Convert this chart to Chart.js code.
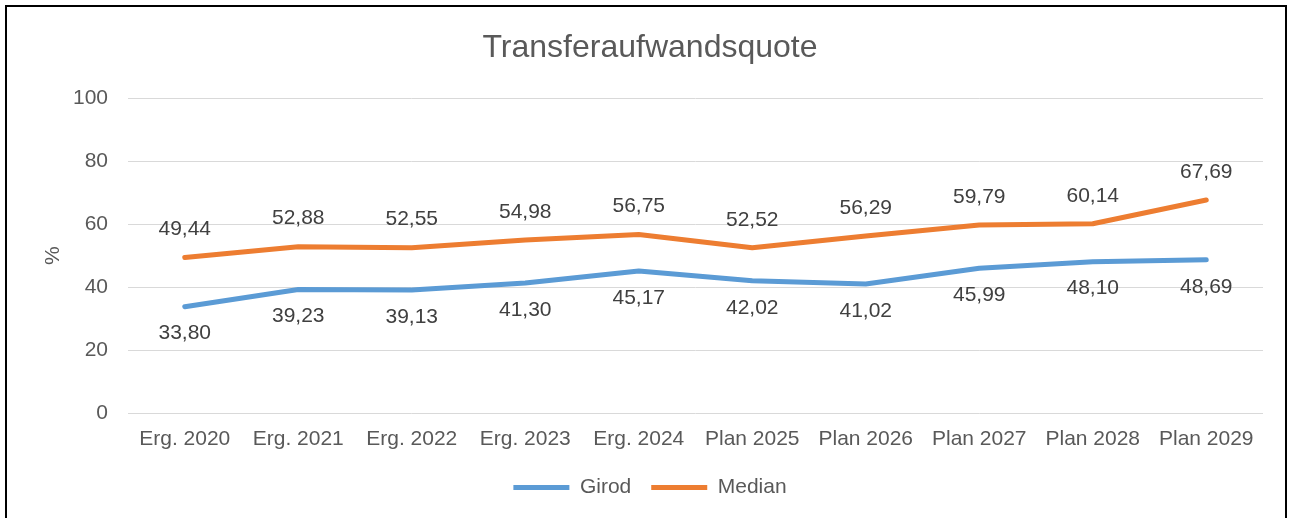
<!DOCTYPE html>
<html>
<head>
<meta charset="utf-8">
<script src="https://cdn.jsdelivr.net/npm/chart.js@4"></script>
<style>
  html, body { margin: 0; padding: 0; background: #fff; overflow: hidden; }
  #frame { position: absolute; left: 5px; top: 5px; width: 1278px; height: 600px; border: 2px solid #000; pointer-events: none; }
  #myChart { position: absolute; left: 0; top: 0; }
</style>
</head>
<body>
<canvas id="myChart" width="1291" height="518"></canvas>
<div id="frame"></div>
<script>
'use strict';

const labels = ['Erg. 2020', 'Erg. 2021', 'Erg. 2022', 'Erg. 2023', 'Erg. 2024',
  'Plan 2025', 'Plan 2026', 'Plan 2027', 'Plan 2028', 'Plan 2029'];
const girod = [33.80, 39.23, 39.13, 41.30, 45.17, 42.02, 41.02, 45.99, 48.10, 48.69];
const median = [49.44, 52.88, 52.55, 54.98, 56.75, 52.52, 56.29, 59.79, 60.14, 67.69];
const yTicks = [0, 20, 40, 60, 80, 100];

const font = 'Liberation Sans, Arial, sans-serif';
const grey = '#595959';

// draws the value next to each point, above or below
const valueLabels = {
  id: 'valueLabels',
  afterDatasetsDraw(chart) {
    const c = chart.ctx;
    c.save();
    c.font = '21px ' + font;
    c.fillStyle = '#404040';
    c.textAlign = 'center';
    c.textBaseline = 'middle';
    chart.data.datasets.forEach((ds, i) => {
      const meta = chart.getDatasetMeta(i);
      meta.data.forEach((pt, j) => {
        const txt = ds.data[j].toFixed(2).replace('.', ',');
        const dy = ds.labelPos === 'above' ? -28 : 27;
        c.fillText(txt, pt.x, pt.y + dy);
      });
    });
    c.restore();
  }
};

new Chart(document.getElementById('myChart'), {
  type: 'line',
  data: {
    labels: labels,
    datasets: [{
      label: 'Girod',
      data: girod,
      borderColor: '#5B9BD5',
      backgroundColor: '#5B9BD5',
      borderWidth: 5,
      borderCapStyle: 'round',
      borderJoinStyle: 'round',
      pointRadius: 0,
      tension: 0,
      labelPos: 'below'
    }, {
      label: 'Median',
      data: median,
      borderColor: '#ED7D31',
      backgroundColor: '#ED7D31',
      borderWidth: 5,
      borderCapStyle: 'round',
      borderJoinStyle: 'round',
      pointRadius: 0,
      tension: 0,
      labelPos: 'above'
    }]
  },
  options: {
    responsive: false,
    animation: false,
    layout: { padding: { left: 37, right: 28, top: 0, bottom: 10 } },
    plugins: {
      title: {
        display: true,
        text: 'Transferaufwandsquote',
        color: grey,
        font: { family: font, size: 32, weight: 'normal' },
        padding: { top: 29, bottom: 31 }
      },
      legend: {
        position: 'bottom',
        labels: {
          color: grey,
          font: { family: font, size: 21 },
          usePointStyle: true,
          pointStyle: 'line',
          pointStyleWidth: 56,
          padding: 20
        }
      },
      tooltip: { enabled: false }
    },
    scales: {
      x: {
        offset: true,
        afterFit(scale) {
          scale.height = 44;
        },
        grid: { display: false, drawTicks: false },
        border: { display: false },
        ticks: { color: grey, font: { family: font, size: 21 }, padding: 14, maxRotation: 0 }
      },
      y: {
        min: 0,
        max: 100,
        afterBuildTicks(scale) {
          scale.ticks = yTicks.map(v => ({ value: v }));
        },
        afterFit(scale) {
          scale.width = 91;
        },
        grid: { color: '#D9D9D9', lineWidth: 1, drawTicks: false },
        border: { display: false },
        ticks: { color: grey, font: { family: font, size: 21 }, padding: 20 },
        title: {
          display: true,
          text: '%',
          color: grey,
          font: { family: font, size: 21, weight: 'normal' },
          padding: { top: 4, bottom: 0 }
        }
      }
    }
  },
  plugins: [valueLabels]
});
</script>
</body>
</html>
